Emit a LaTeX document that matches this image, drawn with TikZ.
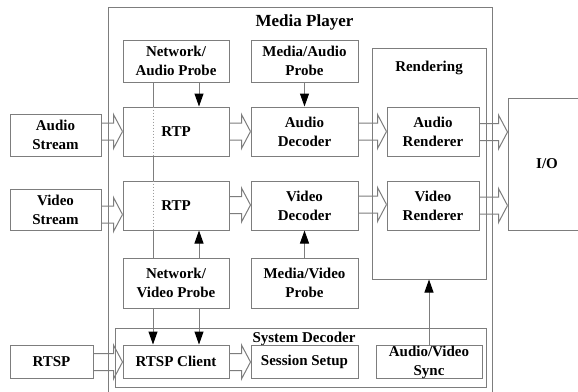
\documentclass[tikz,border=0pt]{standalone}
\usepackage{fontspec}
\setmainfont{Liberation Serif}
\usetikzlibrary{arrows.meta}
\definecolor{ln}{RGB}{125,125,125}
\tikzset{
  txt/.style={inner sep=0pt, align=center, font=\bfseries\fontsize{15}{19}\selectfont},
  box/.style={txt, draw=ln, line width=1pt, fill=white},
  frame/.style={draw=ln, line width=1pt, inner sep=0pt},
  thinln/.style={draw=ln, line width=1pt},
  dotln/.style={draw=ln!75, line width=1pt, dash pattern=on 1.5pt off 1.5pt},
  probe/.style={draw=ln, line width=1pt, -{Triangle[length=13pt,width=9pt,color=black]}},
  fat/.style={draw=ln, line width=1pt, line join=miter},
}
% hollow block arrow: #1 source node, #2 target node, #3 centre y
\newcommand\fatarr[3]{%
  \draw[fat] (#2.west |- 0,#3) -- ++(-9,-17) -- ++(0,8.5) -- (#1.east |- 0,#3-8.5);
  \draw[fat] (#2.west |- 0,#3) -- ++(-9,17) -- ++(0,-8.5) -- (#1.east |- 0,#3+8.5);}
\begin{document}
\begin{tikzpicture}[x=1pt,y=-1pt]
\useasboundingbox (0,0) rectangle (578,391);
\clip (0,0) rectangle (578,391);
\fill[white] (0,0) rectangle (578,391);
% frames
\node[frame, minimum width=384pt, minimum height=400pt] (MP) at (300,207) {};
\node[txt, anchor=base, font=\bfseries\fontsize{17}{20}\selectfont] (MPt) at (304.5,26) {Media Player};
\node[frame, minimum width=114pt, minimum height=231pt] (REN) at (429,163.5) {};
\node[txt, anchor=base] (RENt) at (429,71) {Rendering};
\node[frame, minimum width=371pt, minimum height=59pt] (SD) at (300.5,357.5) {};
\node[txt, anchor=base] (SDt) at (304,342) {System Decoder};
% long probe line
\node[inner sep=0pt, minimum width=106pt, minimum height=42pt] (NAPb) at (176,61) {};
\node[inner sep=0pt, minimum width=106pt, minimum height=50pt] (NVPb) at (176,283) {};
\draw[thinln] (NAPb.south -| 153,0) -- (NVPb.north -| 153,0);
% boxes
\node[box, minimum width=106pt, minimum height=42pt] (NAP) at (176,61) {Network/\\Audio Probe};
\node[box, minimum width=107pt, minimum height=42pt] (MAP) at (304.5,61) {Media/Audio\\Probe};
\node[box, minimum width=106pt, minimum height=49pt] (RTP1) at (176,131.5) {RTP};
\node[box, minimum width=107pt, minimum height=49pt] (AD) at (304.5,131.5) {Audio\\Decoder};
\node[box, minimum width=92pt, minimum height=49pt] (AR) at (433,131.5) {Audio\\Renderer};
\node[box, minimum width=78pt, minimum height=132pt] (IO) at (547,164) {I/O};
\node[box, minimum width=91pt, minimum height=42pt] (AS) at (55.5,135) {Audio\\Stream};
\node[box, minimum width=91pt, minimum height=41pt] (VS) at (55.5,209.5) {Video\\Stream};
\node[box, minimum width=106pt, minimum height=49pt] (RTP2) at (176,205.5) {RTP};
\node[box, minimum width=107pt, minimum height=49pt] (VD) at (304.5,205.5) {Video\\Decoder};
\node[box, minimum width=92pt, minimum height=49pt] (VR) at (433,205.5) {Video\\Renderer};
\node[box, minimum width=106pt, minimum height=50pt] (NVP) at (176,283) {Network/\\Video Probe};
\node[box, minimum width=107pt, minimum height=50pt] (MVP) at (304.5,283) {Media/Video\\Probe};
\node[box, minimum width=83pt, minimum height=33pt] (RTSP) at (51.5,361.5) {RTSP};
\node[box, minimum width=106pt, minimum height=33pt] (RC) at (176,361.5) {RTSP Client};
\node[box, minimum width=107pt, minimum height=33pt] (SS) at (304.5,361.5) {Session Setup};
\node[box, minimum width=106pt, minimum height=33pt] (AVS) at (429,361.5) {};
\node[txt] (AVSt) at (429,362) {Audio/Video\\Sync};
% dotted line through RTP boxes
\draw[dotln] (RTP1.north -| 153,0) -- (RTP1.south -| 153,0);
\draw[dotln] (RTP2.north -| 153,0) -- (RTP2.south -| 153,0);
% probe arrows
\draw[probe] (NAP.south -| 199,0) -- (RTP1.north -| 199,0);
\draw[probe] (MAP.south) -- (AD.north);
\draw[probe] (NVP.north -| 199,0) -- (RTP2.south -| 199,0);
\draw[probe] (MVP.north) -- (VD.south);
\draw[probe] (NVP.south -| 153,0) -- (RC.north -| 153,0);
\draw[probe] (NVP.south -| 199,0) -- (RC.north -| 199,0);
\draw[probe] (AVS.north) -- (REN.south);
% hollow arrows
\fatarr{AS}{RTP1}{131.5}
\fatarr{RTP1}{AD}{131.5}
\fatarr{AD}{AR}{131.5}
\fatarr{AR}{IO}{132}
\fatarr{VS}{RTP2}{214.5}
\fatarr{RTP2}{VD}{205}
\fatarr{VD}{VR}{204.5}
\fatarr{VR}{IO}{205.5}
\fatarr{RTSP}{RC}{362}
\fatarr{RC}{SS}{362}
\end{tikzpicture}
\end{document}
